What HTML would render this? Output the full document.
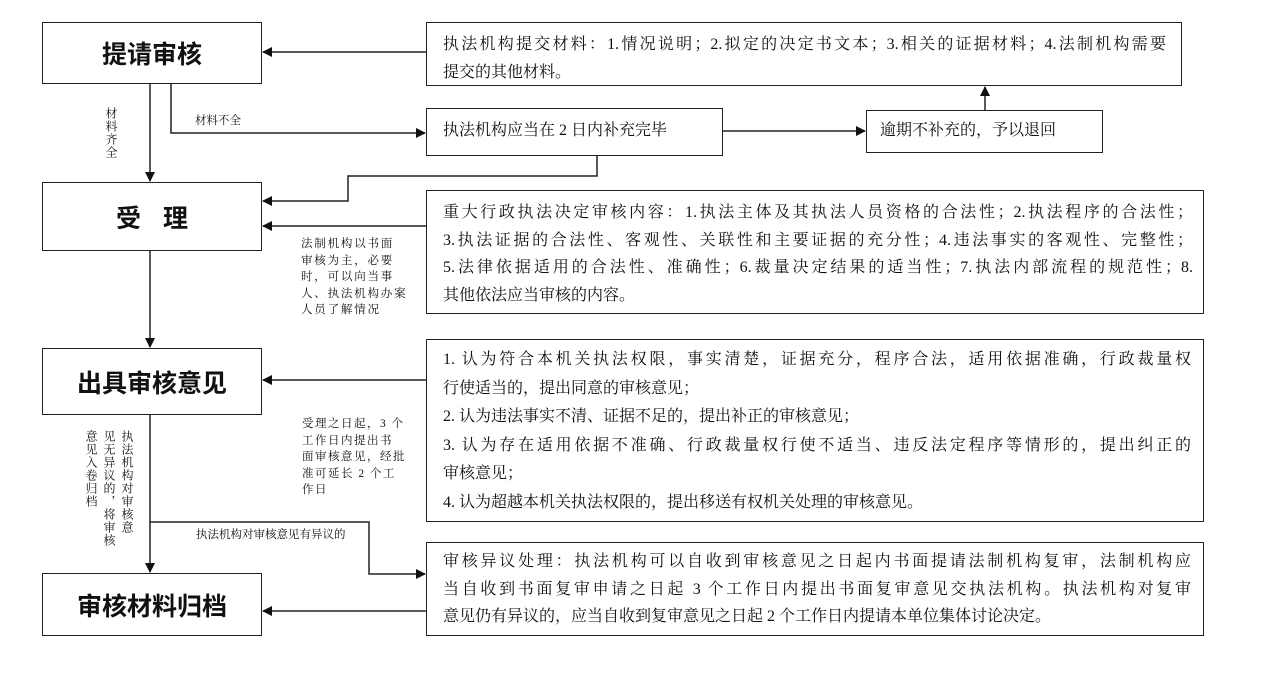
<!DOCTYPE html>
<html><head><meta charset="utf-8"><style>
body{margin:0;width:1268px;height:695px;background:#fff;position:relative;overflow:hidden;font-family:"Liberation Serif","Noto Serif CJK SC","Noto Sans CJK SC",serif;color:#111}
.b{position:absolute;border:1.5px solid #222;box-sizing:border-box;background:#fff}
.big{display:flex;align-items:center;justify-content:center;font-family:"Liberation Sans","Noto Sans CJK SC",sans-serif;font-size:25px;font-weight:bold}
.t{position:absolute;font-size:16px;line-height:27.5px}
.j{text-align:justify;text-align-last:justify;white-space:nowrap}
.s{position:absolute;font-size:11.5px;line-height:16.5px;white-space:nowrap}
.v{position:absolute;font-size:12px;writing-mode:vertical-rl;line-height:14px;letter-spacing:1px}
svg{position:absolute;left:0;top:0}
</style></head><body>
<svg width="1268" height="695">
<defs><marker id="a" markerWidth="10" markerHeight="10" refX="9" refY="5" orient="auto" markerUnits="userSpaceOnUse"><path d="M0,0 L10,5 L0,10z" fill="#111"/></marker></defs>
<g stroke="#222" stroke-width="1.5" fill="none">
<path d="M427,52 H263" marker-end="url(#a)"/>
<path d="M150,83 V181" marker-end="url(#a)"/>
<path d="M171,83 V133 H425" marker-end="url(#a)"/>
<path d="M722,131 H865" marker-end="url(#a)"/>
<path d="M985,110 V87" marker-end="url(#a)"/>
<path d="M597,155 V176 H348 V201 H263" marker-end="url(#a)"/>
<path d="M427,226 H263" marker-end="url(#a)"/>
<path d="M150,250 V347" marker-end="url(#a)"/>
<path d="M427,380 H263" marker-end="url(#a)"/>
<path d="M150,414 V572" marker-end="url(#a)"/>
<path d="M150,522 H369 V574 H425" marker-end="url(#a)"/>
<path d="M427,611 H263" marker-end="url(#a)"/>
</g></svg>
<div class="b big" style="left:42px;top:22px;width:220px;height:62px">提请审核</div>
<div class="b big" style="left:42px;top:182px;width:220px;height:69px;letter-spacing:22px;padding-left:22px">受理</div>
<div class="b big" style="left:42px;top:348px;width:220px;height:67px">出具审核意见</div>
<div class="b big" style="left:42px;top:573px;width:220px;height:63px">审核材料归档</div>

<div class="b" style="left:426px;top:22px;width:756px;height:64px"></div>
<div class="t" style="left:443px;top:31px;width:723px"><div class="j">执法机构提交材料：1.情况说明；2.拟定的决定书文本；3.相关的证据材料；4.法制机构需要</div><div>提交的其他材料。</div></div>
<div class="b" style="left:426px;top:108px;width:297px;height:48px"></div>
<div class="t" style="left:443px;top:117px">执法机构应当在 2 日内补充完毕</div>
<div class="b" style="left:866px;top:110px;width:237px;height:43px"></div>
<div class="t" style="left:880px;top:117px">逾期不补充的，予以退回</div>

<div class="b" style="left:426px;top:190px;width:778px;height:124px"></div>
<div class="t" style="left:443px;top:199px;width:750px"><div class="j">重大行政执法决定审核内容：1.执法主体及其执法人员资格的合法性；2.执法程序的合法性；</div><div class="j">3.执法证据的合法性、客观性、关联性和主要证据的充分性；4.违法事实的客观性、完整性；</div><div class="j">5.法律依据适用的合法性、准确性；6.裁量决定结果的适当性；7.执法内部流程的规范性；8.</div><div>其他依法应当审核的内容。</div></div>

<div class="b" style="left:426px;top:339px;width:778px;height:183px"></div>
<div class="t" style="left:443px;top:346px;width:748px;line-height:28.5px"><div class="j">1. 认为符合本机关执法权限，事实清楚，证据充分，程序合法，适用依据准确，行政裁量权</div><div>行使适当的，提出同意的审核意见；</div><div>2. 认为违法事实不清、证据不足的，提出补正的审核意见；</div><div class="j">3. 认为存在适用依据不准确、行政裁量权行使不适当、违反法定程序等情形的，提出纠正的</div><div>审核意见；</div><div>4. 认为超越本机关执法权限的，提出移送有权机关处理的审核意见。</div></div>

<div class="b" style="left:426px;top:542px;width:778px;height:94px"></div>
<div class="t" style="left:443px;top:548px;width:748px;line-height:27.5px"><div class="j">审核异议处理：执法机构可以自收到审核意见之日起内书面提请法制机构复审，法制机构应</div><div class="j">当自收到书面复审申请之日起 3 个工作日内提出书面复审意见交执法机构。执法机构对复审</div><div>意见仍有异议的，应当自收到复审意见之日起 2 个工作日内提请本单位集体讨论决定。</div></div>

<div class="v" style="left:104px;top:107px">材料齐全</div>
<div class="s" style="left:195px;top:113px">材料不全</div>
<div class="s" style="left:301px;top:236px;letter-spacing:1.8px">法制机构以书面<br>审核为主，必要<br>时，可以向当事<br>人、执法机构办案<br>人员了解情况</div>
<div class="s" style="left:302px;top:416px;letter-spacing:1.5px">受理之日起，3 个<br>工作日内提出书<br>面审核意见，经批<br>准可延长 2 个工<br>作日</div>
<div class="v" style="left:82px;top:430px;height:125px;line-height:18px">执法机构对审核意<br>见无异议的，将审核<br>意见入卷归档</div>
<div class="s" style="left:196px;top:527px">执法机构对审核意见有异议的</div>
</body></html>
